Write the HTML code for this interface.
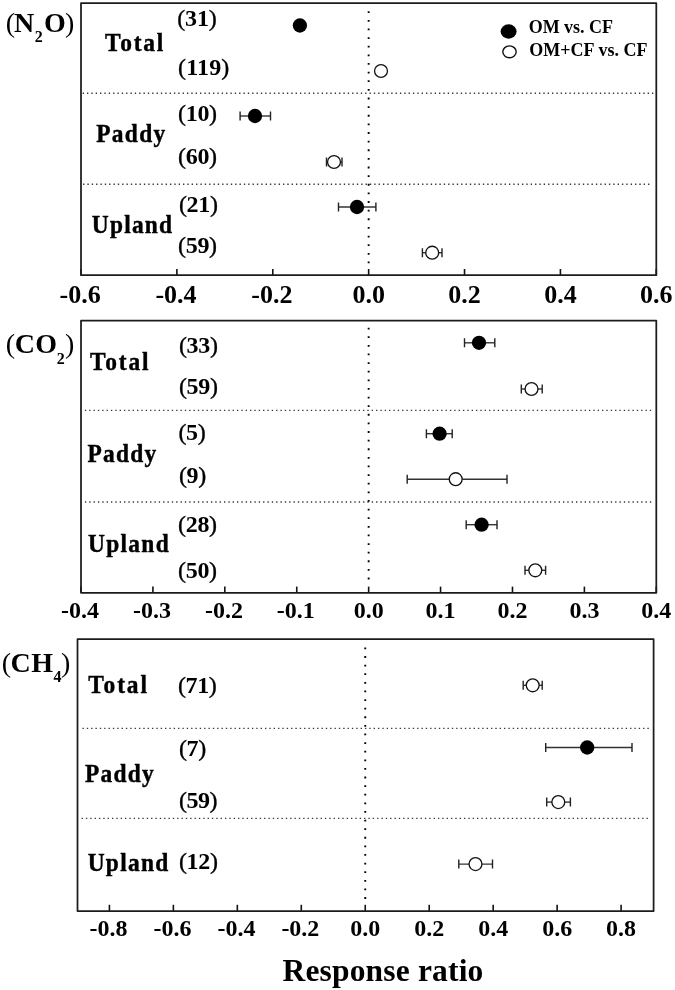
<!DOCTYPE html>
<html><head><meta charset="utf-8"><style>
html,body{margin:0;padding:0;background:#fff;}
svg{display:block;will-change:transform;}
text{font-family:"Liberation Serif", serif;font-weight:bold;fill:#000;}
</style></head><body>
<svg width="675" height="990" viewBox="0 0 675 990">
<rect width="675" height="990" fill="#fff"/>
<line x1="82.65" y1="93.2" x2="653.53" y2="93.2" stroke="#383838" stroke-width="1.4" stroke-dasharray="1.35 2.996"/>
<line x1="83.05" y1="184.3" x2="649.58" y2="184.3" stroke="#383838" stroke-width="1.4" stroke-dasharray="1.35 2.996"/>
<line x1="368.65" y1="11.30" x2="368.65" y2="263.41" stroke="#000" stroke-width="1.9" stroke-dasharray="1.8 6.828"/>
<line x1="81.00" y1="275.2" x2="81.00" y2="269.0" stroke="#111" stroke-width="1.6"/>
<line x1="176.88" y1="275.2" x2="176.88" y2="269.0" stroke="#111" stroke-width="1.6"/>
<line x1="272.77" y1="275.2" x2="272.77" y2="269.0" stroke="#111" stroke-width="1.6"/>
<line x1="368.65" y1="275.2" x2="368.65" y2="269.0" stroke="#111" stroke-width="1.6"/>
<line x1="464.53" y1="275.2" x2="464.53" y2="269.0" stroke="#111" stroke-width="1.6"/>
<line x1="560.42" y1="275.2" x2="560.42" y2="269.0" stroke="#111" stroke-width="1.6"/>
<line x1="656.30" y1="275.2" x2="656.30" y2="269.0" stroke="#111" stroke-width="1.6"/>
<rect x="81" y="3" width="575.30" height="272.2" fill="none" stroke="#1c1c1c" stroke-width="1.75" stroke-linejoin="round"/>
<text x="80.10" y="302.9" font-size="26" text-anchor="middle">-0.6</text>
<text x="175.98" y="302.9" font-size="26" text-anchor="middle">-0.4</text>
<text x="271.87" y="302.9" font-size="26" text-anchor="middle">-0.2</text>
<text x="368.65" y="302.9" font-size="26" text-anchor="middle">0.0</text>
<text x="464.53" y="302.9" font-size="26" text-anchor="middle">0.2</text>
<text x="560.42" y="302.9" font-size="26" text-anchor="middle">0.4</text>
<text x="656.30" y="302.9" font-size="26" text-anchor="middle">0.6</text>
<circle cx="299.9" cy="25.5" r="7.15" fill="#000"/>
<circle cx="381" cy="71" r="6.45" fill="#fff" stroke="#111" stroke-width="1.3"/>
<path d="M240.1 116H270.5" stroke="#333" stroke-width="1.4" fill="none"/>
<path d="M240.1 111.5V120.5M270.5 111.5V120.5" stroke="#222" stroke-width="1.4" fill="none"/>
<circle cx="255" cy="116" r="7.15" fill="#000"/>
<path d="M326.5 162H342" stroke="#333" stroke-width="1.4" fill="none"/>
<path d="M326.5 157.5V166.5M342 157.5V166.5" stroke="#222" stroke-width="1.4" fill="none"/>
<circle cx="334" cy="162" r="6.45" fill="#fff" stroke="#111" stroke-width="1.3"/>
<path d="M338.5 207H375.9" stroke="#333" stroke-width="1.4" fill="none"/>
<path d="M338.5 202.5V211.5M375.9 202.5V211.5" stroke="#222" stroke-width="1.4" fill="none"/>
<circle cx="357" cy="207" r="7.15" fill="#000"/>
<path d="M422.4 252.7H442" stroke="#333" stroke-width="1.4" fill="none"/>
<path d="M422.4 248.2V257.2M442 248.2V257.2" stroke="#222" stroke-width="1.4" fill="none"/>
<circle cx="432.2" cy="252.7" r="6.45" fill="#fff" stroke="#111" stroke-width="1.3"/>
<line x1="84.85" y1="410.4" x2="651.38" y2="410.4" stroke="#383838" stroke-width="1.4" stroke-dasharray="1.35 2.996"/>
<line x1="84.90" y1="502" x2="651.43" y2="502" stroke="#383838" stroke-width="1.4" stroke-dasharray="1.35 2.996"/>
<line x1="368.65" y1="327.70" x2="368.65" y2="579.49" stroke="#000" stroke-width="1.9" stroke-dasharray="1.8 6.817"/>
<line x1="81.00" y1="592.8" x2="81.00" y2="586.5999999999999" stroke="#111" stroke-width="1.6"/>
<line x1="152.91" y1="592.8" x2="152.91" y2="586.5999999999999" stroke="#111" stroke-width="1.6"/>
<line x1="224.82" y1="592.8" x2="224.82" y2="586.5999999999999" stroke="#111" stroke-width="1.6"/>
<line x1="296.74" y1="592.8" x2="296.74" y2="586.5999999999999" stroke="#111" stroke-width="1.6"/>
<line x1="368.65" y1="592.8" x2="368.65" y2="586.5999999999999" stroke="#111" stroke-width="1.6"/>
<line x1="440.56" y1="592.8" x2="440.56" y2="586.5999999999999" stroke="#111" stroke-width="1.6"/>
<line x1="512.48" y1="592.8" x2="512.48" y2="586.5999999999999" stroke="#111" stroke-width="1.6"/>
<line x1="584.39" y1="592.8" x2="584.39" y2="586.5999999999999" stroke="#111" stroke-width="1.6"/>
<line x1="656.30" y1="592.8" x2="656.30" y2="586.5999999999999" stroke="#111" stroke-width="1.6"/>
<rect x="81" y="320.7" width="575.30" height="272.09999999999997" fill="none" stroke="#1c1c1c" stroke-width="1.75" stroke-linejoin="round"/>
<text x="80.10" y="618.1" font-size="24" text-anchor="middle">-0.4</text>
<text x="152.01" y="618.1" font-size="24" text-anchor="middle">-0.3</text>
<text x="223.92" y="618.1" font-size="24" text-anchor="middle">-0.2</text>
<text x="295.84" y="618.1" font-size="24" text-anchor="middle">-0.1</text>
<text x="368.65" y="618.1" font-size="24" text-anchor="middle">0.0</text>
<text x="440.56" y="618.1" font-size="24" text-anchor="middle">0.1</text>
<text x="512.48" y="618.1" font-size="24" text-anchor="middle">0.2</text>
<text x="584.39" y="618.1" font-size="24" text-anchor="middle">0.3</text>
<text x="656.30" y="618.1" font-size="24" text-anchor="middle">0.4</text>
<path d="M464.5 342.8H494.8" stroke="#333" stroke-width="1.4" fill="none"/>
<path d="M464.5 338.3V347.3M494.8 338.3V347.3" stroke="#222" stroke-width="1.4" fill="none"/>
<circle cx="479" cy="342.8" r="7.15" fill="#000"/>
<path d="M521.3 389H542.2" stroke="#333" stroke-width="1.4" fill="none"/>
<path d="M521.3 384.5V393.5M542.2 384.5V393.5" stroke="#222" stroke-width="1.4" fill="none"/>
<circle cx="531.5" cy="389" r="6.45" fill="#fff" stroke="#111" stroke-width="1.3"/>
<path d="M426.4 433.7H452.2" stroke="#333" stroke-width="1.4" fill="none"/>
<path d="M426.4 429.2V438.2M452.2 429.2V438.2" stroke="#222" stroke-width="1.4" fill="none"/>
<circle cx="439.6" cy="433.7" r="7.15" fill="#000"/>
<path d="M407.2 479.2H507" stroke="#333" stroke-width="1.4" fill="none"/>
<path d="M407.2 474.7V483.7M507 474.7V483.7" stroke="#222" stroke-width="1.4" fill="none"/>
<circle cx="455.7" cy="479.2" r="6.45" fill="#fff" stroke="#111" stroke-width="1.3"/>
<path d="M466.2 524.7H497" stroke="#333" stroke-width="1.4" fill="none"/>
<path d="M466.2 520.2V529.2M497 520.2V529.2" stroke="#222" stroke-width="1.4" fill="none"/>
<circle cx="481.6" cy="524.7" r="7.15" fill="#000"/>
<path d="M525 570.3H545.6" stroke="#333" stroke-width="1.4" fill="none"/>
<path d="M525 565.8V574.8M545.6 565.8V574.8" stroke="#222" stroke-width="1.4" fill="none"/>
<circle cx="535.3" cy="570.3" r="6.45" fill="#fff" stroke="#111" stroke-width="1.3"/>
<line x1="82.45" y1="728.4" x2="648.98" y2="728.4" stroke="#383838" stroke-width="1.4" stroke-dasharray="1.35 2.996"/>
<line x1="81.55" y1="818.4" x2="648.08" y2="818.4" stroke="#383838" stroke-width="1.4" stroke-dasharray="1.35 2.996"/>
<line x1="365.25" y1="647.50" x2="365.25" y2="899.00" stroke="#000" stroke-width="1.9" stroke-dasharray="1.8 6.807"/>
<line x1="109.41" y1="911" x2="109.41" y2="904.8" stroke="#111" stroke-width="1.6"/>
<line x1="173.37" y1="911" x2="173.37" y2="904.8" stroke="#111" stroke-width="1.6"/>
<line x1="237.33" y1="911" x2="237.33" y2="904.8" stroke="#111" stroke-width="1.6"/>
<line x1="301.29" y1="911" x2="301.29" y2="904.8" stroke="#111" stroke-width="1.6"/>
<line x1="365.25" y1="911" x2="365.25" y2="904.8" stroke="#111" stroke-width="1.6"/>
<line x1="429.21" y1="911" x2="429.21" y2="904.8" stroke="#111" stroke-width="1.6"/>
<line x1="493.17" y1="911" x2="493.17" y2="904.8" stroke="#111" stroke-width="1.6"/>
<line x1="557.13" y1="911" x2="557.13" y2="904.8" stroke="#111" stroke-width="1.6"/>
<line x1="621.09" y1="911" x2="621.09" y2="904.8" stroke="#111" stroke-width="1.6"/>
<rect x="77.5" y="639" width="576.10" height="272" fill="none" stroke="#1c1c1c" stroke-width="1.75" stroke-linejoin="round"/>
<text x="108.51" y="936.0" font-size="24" text-anchor="middle">-0.8</text>
<text x="172.47" y="936.0" font-size="24" text-anchor="middle">-0.6</text>
<text x="236.43" y="936.0" font-size="24" text-anchor="middle">-0.4</text>
<text x="300.39" y="936.0" font-size="24" text-anchor="middle">-0.2</text>
<text x="365.25" y="936.0" font-size="24" text-anchor="middle">0.0</text>
<text x="429.21" y="936.0" font-size="24" text-anchor="middle">0.2</text>
<text x="493.17" y="936.0" font-size="24" text-anchor="middle">0.4</text>
<text x="557.13" y="936.0" font-size="24" text-anchor="middle">0.6</text>
<text x="621.09" y="936.0" font-size="24" text-anchor="middle">0.8</text>
<path d="M523.2 685.3H542.2" stroke="#333" stroke-width="1.4" fill="none"/>
<path d="M523.2 680.8V689.8M542.2 680.8V689.8" stroke="#222" stroke-width="1.4" fill="none"/>
<circle cx="532.7" cy="685.3" r="6.45" fill="#fff" stroke="#111" stroke-width="1.3"/>
<path d="M545.7 747.5H632" stroke="#333" stroke-width="1.4" fill="none"/>
<path d="M545.7 743.0V752.0M632 743.0V752.0" stroke="#222" stroke-width="1.4" fill="none"/>
<circle cx="587.2" cy="747.5" r="7.15" fill="#000"/>
<path d="M546.7 802.1H570.4" stroke="#333" stroke-width="1.4" fill="none"/>
<path d="M546.7 797.6V806.6M570.4 797.6V806.6" stroke="#222" stroke-width="1.4" fill="none"/>
<circle cx="558.3" cy="802.1" r="6.45" fill="#fff" stroke="#111" stroke-width="1.3"/>
<path d="M458.8 864.1H492.5" stroke="#333" stroke-width="1.4" fill="none"/>
<path d="M458.8 859.6V868.6M492.5 859.6V868.6" stroke="#222" stroke-width="1.4" fill="none"/>
<circle cx="475.5" cy="864.1" r="6.45" fill="#fff" stroke="#111" stroke-width="1.3"/>
<text x="5.8" y="31.7" font-size="28" font-weight="normal" style="font-weight:normal">(</text>
<text x="14.1" y="31.7" font-size="28">N</text>
<text x="34.8" y="41.9" font-size="16">2</text>
<text x="44" y="31.7" font-size="28">O</text>
<text x="65.1" y="31.7" font-size="28" font-weight="normal" style="font-weight:normal">)</text>
<text x="5.8" y="353.3" font-size="28" font-weight="normal" style="font-weight:normal">(</text>
<text x="14.7" y="353.3" font-size="28">C</text>
<text x="35.2" y="353.3" font-size="28">O</text>
<text x="56.8" y="363.90000000000003" font-size="16">2</text>
<text x="65.1" y="353.3" font-size="28" font-weight="normal" style="font-weight:normal">)</text>
<text x="1.7" y="672.3" font-size="28" font-weight="normal" style="font-weight:normal">(</text>
<text x="10.6" y="672.3" font-size="28">C</text>
<text x="31.2" y="672.3" font-size="28">H</text>
<text x="53.4" y="682.4" font-size="16">4</text>
<text x="61" y="672.3" font-size="28" font-weight="normal" style="font-weight:normal">)</text>
<ellipse cx="508.6" cy="31.5" rx="8" ry="7.2" fill="#000"/>
<ellipse cx="509.5" cy="51.8" rx="6.7" ry="5.9" fill="#fff" stroke="#111" stroke-width="1.4"/>
<text transform="translate(105.00,51.00) scale(0.9,1)" font-size="26" letter-spacing="2.00" stroke="#000" stroke-width="0.45">Total</text>
<text transform="translate(96.20,141.90) scale(0.9,1)" font-size="26" letter-spacing="1.47" stroke="#000" stroke-width="0.45">Paddy</text>
<text transform="translate(91.80,233.30) scale(0.9,1)" font-size="26" letter-spacing="1.38" stroke="#000" stroke-width="0.45">Upland</text>
<text x="177.30" y="26.20" font-size="24" letter-spacing="-0.20"><tspan style="font-weight:normal" stroke="#000" stroke-width="0.35">(</tspan>31<tspan style="font-weight:normal" stroke="#000" stroke-width="0.35">)</tspan></text>
<text x="178.00" y="74.80" font-size="24" letter-spacing="0.15"><tspan style="font-weight:normal" stroke="#000" stroke-width="0.35">(</tspan>119<tspan style="font-weight:normal" stroke="#000" stroke-width="0.35">)</tspan></text>
<text x="178.00" y="120.90" font-size="24" letter-spacing="-0.30"><tspan style="font-weight:normal" stroke="#000" stroke-width="0.35">(</tspan>10<tspan style="font-weight:normal" stroke="#000" stroke-width="0.35">)</tspan></text>
<text x="178.00" y="164.20" font-size="24" letter-spacing="-0.30"><tspan style="font-weight:normal" stroke="#000" stroke-width="0.35">(</tspan>60<tspan style="font-weight:normal" stroke="#000" stroke-width="0.35">)</tspan></text>
<text x="178.90" y="211.60" font-size="24" letter-spacing="-0.30"><tspan style="font-weight:normal" stroke="#000" stroke-width="0.35">(</tspan>21<tspan style="font-weight:normal" stroke="#000" stroke-width="0.35">)</tspan></text>
<text x="178.00" y="253.30" font-size="24" letter-spacing="-0.30"><tspan style="font-weight:normal" stroke="#000" stroke-width="0.35">(</tspan>59<tspan style="font-weight:normal" stroke="#000" stroke-width="0.35">)</tspan></text>
<text transform="translate(90.00,370.10) scale(0.9,1)" font-size="26" letter-spacing="2.06" stroke="#000" stroke-width="0.45">Total</text>
<text transform="translate(87.40,461.70) scale(0.9,1)" font-size="26" letter-spacing="1.39" stroke="#000" stroke-width="0.45">Paddy</text>
<text transform="translate(87.90,551.90) scale(0.9,1)" font-size="26" letter-spacing="1.49" stroke="#000" stroke-width="0.45">Upland</text>
<text x="178.90" y="353.00" font-size="24" letter-spacing="-0.30"><tspan style="font-weight:normal" stroke="#000" stroke-width="0.35">(</tspan>33<tspan style="font-weight:normal" stroke="#000" stroke-width="0.35">)</tspan></text>
<text x="178.90" y="394.40" font-size="24" letter-spacing="-0.30"><tspan style="font-weight:normal" stroke="#000" stroke-width="0.35">(</tspan>59<tspan style="font-weight:normal" stroke="#000" stroke-width="0.35">)</tspan></text>
<text x="178.40" y="439.50" font-size="24" letter-spacing="-0.30"><tspan style="font-weight:normal" stroke="#000" stroke-width="0.35">(</tspan>5<tspan style="font-weight:normal" stroke="#000" stroke-width="0.35">)</tspan></text>
<text x="178.90" y="483.30" font-size="24" letter-spacing="-0.30"><tspan style="font-weight:normal" stroke="#000" stroke-width="0.35">(</tspan>9<tspan style="font-weight:normal" stroke="#000" stroke-width="0.35">)</tspan></text>
<text x="178.00" y="531.80" font-size="24" letter-spacing="-0.30"><tspan style="font-weight:normal" stroke="#000" stroke-width="0.35">(</tspan>28<tspan style="font-weight:normal" stroke="#000" stroke-width="0.35">)</tspan></text>
<text x="178.00" y="578.30" font-size="24" letter-spacing="-0.30"><tspan style="font-weight:normal" stroke="#000" stroke-width="0.35">(</tspan>50<tspan style="font-weight:normal" stroke="#000" stroke-width="0.35">)</tspan></text>
<text transform="translate(88.30,693.10) scale(0.9,1)" font-size="26" letter-spacing="2.08" stroke="#000" stroke-width="0.45">Total</text>
<text transform="translate(85.00,781.70) scale(0.9,1)" font-size="26" letter-spacing="1.42" stroke="#000" stroke-width="0.45">Paddy</text>
<text transform="translate(87.70,870.80) scale(0.9,1)" font-size="26" letter-spacing="1.42" stroke="#000" stroke-width="0.45">Upland</text>
<text x="178.00" y="693.30" font-size="24" letter-spacing="-0.43"><tspan style="font-weight:normal" stroke="#000" stroke-width="0.35">(</tspan>71<tspan style="font-weight:normal" stroke="#000" stroke-width="0.35">)</tspan></text>
<text x="178.90" y="755.60" font-size="24" letter-spacing="-0.30"><tspan style="font-weight:normal" stroke="#000" stroke-width="0.35">(</tspan>7<tspan style="font-weight:normal" stroke="#000" stroke-width="0.35">)</tspan></text>
<text x="178.90" y="807.50" font-size="24" letter-spacing="-0.43"><tspan style="font-weight:normal" stroke="#000" stroke-width="0.35">(</tspan>59<tspan style="font-weight:normal" stroke="#000" stroke-width="0.35">)</tspan></text>
<text x="178.90" y="869.30" font-size="24" letter-spacing="-0.30"><tspan style="font-weight:normal" stroke="#000" stroke-width="0.35">(</tspan>12<tspan style="font-weight:normal" stroke="#000" stroke-width="0.35">)</tspan></text>
<text x="528.70" y="33.00" font-size="18" letter-spacing="-0.03">OM vs. CF</text>
<text x="529.30" y="56.20" font-size="18" letter-spacing="0.01">OM+CF vs. CF</text>
<text x="282.50" y="980.60" font-size="31.5" letter-spacing="0.17">Response ratio</text>
</svg>
</body></html>
